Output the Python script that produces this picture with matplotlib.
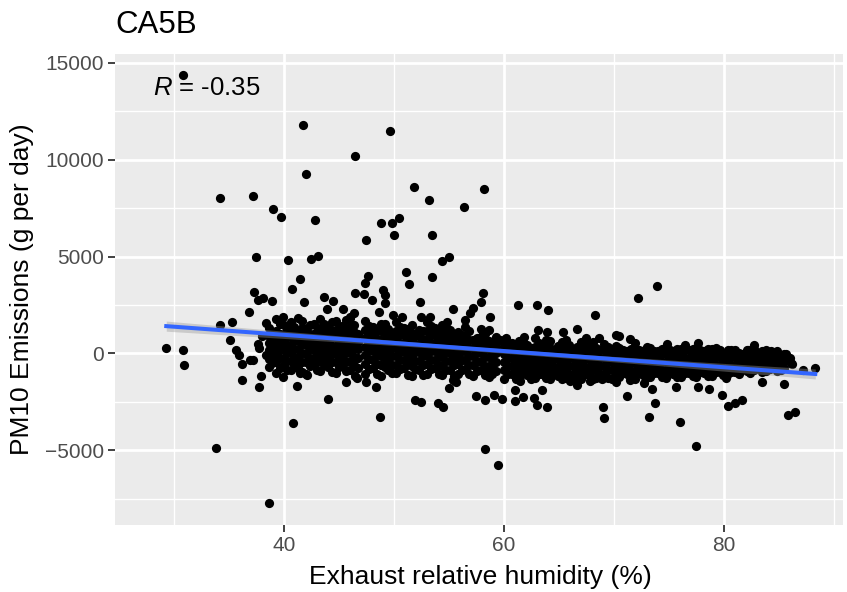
import numpy as np
import matplotlib.pyplot as plt

plt.rcParams['font.family'] = ['Liberation Sans', 'DejaVu Sans']
plt.rcParams['mathtext.fontset'] = 'custom'
plt.rcParams['mathtext.it'] = 'Liberation Sans:italic'
plt.rcParams['mathtext.rm'] = 'Liberation Sans'

title = "CA5B"
x_label = "Exhaust relative humidity (%)"
y_label = "PM10 Emissions (g per day)"
r_text = "-0.35"

x_ticks = [40, 60, 80]
y_ticks = [-5000, 0, 5000, 10000, 15000]

# isolated points (humidity %, PM10 g/day)
upper_pts = [
    (30.8, 14400), (41.7, 11780), (46.5, 10180), (49.6, 11480), (42.0, 9280),
    (34.2, 8010), (37.2, 8130), (39.0, 7440), (39.7, 7060), (42.8, 6870),
    (51.8, 8570), (58.2, 8490), (53.2, 7920), (56.4, 7570), (50.5, 6990),
    (49.8, 6750), (48.8, 6730), (50.0, 6110), (53.5, 6110), (47.5, 5840),
    (37.5, 4990), (40.4, 4820), (42.5, 4890), (43.1, 5040), (55.0, 4970),
    (54.4, 4750), (41.5, 3850), (40.7, 3330), (37.3, 3150), (47.6, 4010),
    (47.4, 3630), (51.1, 4220), (51.4, 3580), (53.5, 3960), (46.5, 3100),
    (49.0, 3270), (49.2, 3010), (47.3, 3050), (48.0, 2750), (49.2, 2580),
    (52.4, 2630), (58.1, 3100), (57.9, 2630), (61.3, 2500), (63.0, 2500),
    (64.0, 2240), (55.4, 2270), (58.7, 1880), (45.4, 2270), (48.6, 2150),
    (72.2, 2840), (73.9, 3490), (68.3, 1980),
]

left_pts = [
    (29.3, 290), (30.8, 170), (30.9, -600), (33.8, -4900), (34.2, 1460),
    (35.3, 1630), (35.1, 700), (35.6, 150), (35.9, -100), (36.2, -570),
    (36.2, -1400), (36.8, 2120), (37.6, 2750), (38.1, 2840), (38.9, 2700),
    (36.9, -350), (37.7, -1720), (37.9, -1170), (38.6, -7750), (40.8, -3580),
    (41.8, 2630), (43.6, 2920), (44.5, 2700), (46.4, 2070), (43.9, 2270),
    (44.0, -2380), (41.2, -1690), (39.9, -1210), (41.5, -1030), (42.1, -1120),
    (45.6, -1470), (46.5, -1170), (37.7, 260), (38.4, -90), (38.4, 1550),
    (39.9, 1890), (37.2, -350), (37.6, 500), (38.0, 900),
]

mid_pts = [
    (57.2, 2320), (56.9, 2070), (56.5, 1720), (49.9, 1980), (50.7, 1890),
    (52.5, 1890), (53.3, 1890), (54.8, 1630), (58.6, 1200), (46.0, 1890),
    (60.2, 770), (61.8, 860), (63.1, 1200), (63.9, 1120), (65.4, 1120),
    (66.6, 1240), (67.5, 770), (68.6, 770), (70.2, 950), (59.6, 690),
    (58.1, 1120), (70.5, 910), (71.5, 720), (71.9, 550), (74.8, 460),
    (76.5, 430), (77.6, 550), (73.0, 340), (79.3, 260), (80.4, 170),
]

lower_pts = [
    (47.5, -1470), (48.4, -1720), (46.6, -1290), (51.9, -2410), (52.5, -2530),
    (54.0, -2580), (54.5, -2790), (55.0, -1810), (55.4, -1380), (57.5, -2200),
    (58.3, -2410), (48.7, -3270), (58.3, -4940), (59.5, -5770), (59.1, -2150),
    (59.8, -2360), (61.0, -2450), (61.7, -2240), (62.7, -2320), (63.0, -2670),
    (63.9, -2790), (63.5, -1900), (61.0, -1900), (55.6, -1470), (66.6, -1640),
    (69.0, -2760), (69.1, -3360), (66.0, -1450), (67.8, -1450), (68.9, -1350),
    (61.5, -1450), (58.3, -860), (58.9, -950),
]

right_pts = [
    (70.2, -1470), (71.5, -1380), (72.7, -1550), (73.5, -1860), (75.6, -1720),
    (77.6, -1720), (78.6, -1860), (79.8, -2150), (80.2, -1290), (71.2, -2200),
    (73.7, -2550), (73.2, -3270), (76.0, -3560), (77.5, -4800), (80.4, -2720),
    (81.0, -2580), (81.6, -2410), (85.5, -1590), (85.8, -3190), (86.5, -3050),
    (83.5, -1470), (85.6, -50), (86.1, -520), (87.2, -860), (88.3, -740),
    (84.3, 130), (82.7, 430), (82.2, 170), (86.0, -260), (86.2, -550),
]

# dense band: humidity columns and the PM10 values stacked in each
band1_hum = [38.6, 39.3, 40.0, 40.6, 41.3, 42.0, 42.7, 43.3, 44.0, 44.7, 45.3, 46.0, 46.7]
band1_pm = [
    [-700, -300, 150, 520, 900, 1300],
    [-1000, -450, -50, 380, 760, 1150, 1750],
    [-600, -250, 200, 620, 1000, 1450],
    [-850, -400, 50, 450, 850, 1250, 1600],
    [-750, -200, 250, 700, 1100, 1850],
    [-1050, -450, -20, 420, 820, 1250],
    [-600, -250, 180, 600, 1000, 1500],
    [-900, -400, 30, 480, 900, 1300, 1750],
    [-700, -280, 150, 560, 950, 1300],
    [-1000, -450, 0, 400, 820, 1200, 1650],
    [-600, -200, 250, 650, 1050, 1400],
    [-850, -380, 60, 500, 900, 1350, 1800],
    [-750, -250, 200, 600, 1000],
]
band1b_hum = [38.95, 39.65, 40.3, 40.95, 41.65, 42.35, 43.0, 43.65, 44.35, 45.0, 45.65, 46.35]
band1b_pm = [
    [-500, -80, 350, 720, 1050],
    [-750, -250, 180, 600, 1000, 1500],
    [-850, -420, 0, 420, 820, 1250],
    [-550, -180, 250, 650, 1050, 1350],
    [-950, -450, 0, 480, 900, 1300, 1650],
    [-650, -220, 200, 620, 1000, 1450],
    [-850, -450, 0, 400, 800, 1150],
    [-600, -150, 250, 700, 1100, 1500],
    [-950, -450, -30, 380, 780, 1150, 1600],
    [-700, -300, 150, 550, 950, 1300],
    [-900, -450, 0, 420, 850, 1250, 1700],
    [-600, -200, 250, 700, 1100, 1450],
]

band2_hum = [47.4, 48.1, 48.8, 49.5, 50.2, 50.9, 51.6, 52.3, 53.0, 53.7, 54.4, 55.1,
             55.8, 56.5, 57.2, 57.9, 58.6, 59.3]
band2_pm = [
    [-1050, -550, -100, 350, 780, 1200, 1650],
    [-750, -350, 100, 550, 950, 1350],
    [-1150, -600, -150, 300, 700, 1150, 1500],
    [-850, -400, 50, 500, 900, 1250],
    [-1000, -600, -150, 280, 720, 1150, 1600],
    [-750, -350, 120, 550, 950, 1300],
    [-1150, -650, -200, 250, 650, 1050, 1450],
    [-850, -400, 50, 480, 880, 1200],
    [-1050, -550, -100, 330, 750, 1150, 1600],
    [-750, -350, 100, 520, 950, 1300],
    [-1100, -650, -200, 250, 650, 1050, 1450],
    [-850, -400, 30, 450, 850, 1200],
    [-1050, -550, -100, 350, 750, 1100],
    [-800, -350, 100, 500, 900, 1350],
    [-1150, -600, -150, 280, 680],
    [-850, -400, 50, 450, 850, 1250],
    [-1200, -650, -200, 250, 650],
    [-900, -450, 0, 400, 850],
]
band2b_hum = [47.75, 48.45, 49.15, 49.85, 50.55, 51.25, 51.95, 52.65, 53.35, 54.05,
              54.75, 55.45, 56.15, 56.85, 57.55, 58.25, 58.95]
band2b_pm = [
    [-800, -300, 150, 580, 1000, 1400],
    [-1050, -550, -100, 330, 750, 1150],
    [-700, -250, 200, 620, 1050, 1500],
    [-1000, -600, -150, 300, 700, 1050],
    [-800, -350, 80, 500, 950, 1350],
    [-1100, -550, -100, 350, 780, 1250],
    [-800, -400, 50, 450, 880],
    [-1100, -600, -150, 280, 700, 1150],
    [-800, -330, 130, 550, 950, 1400],
    [-1050, -600, -150, 300, 720, 1100],
    [-850, -380, 60, 480, 880, 1300],
    [-1150, -600, -180, 250, 650, 950],
    [-850, -350, 120, 520, 950],
    [-1050, -600, -150, 280, 700, 1150],
    [-900, -450, 0, 420, 800],
    [-1100, -650, -200, 220, 600, 1000],
    [-1050, -650, -250, 200, 600],
]

band3_hum = [60.0, 60.7, 61.4, 62.1, 62.8, 63.5, 64.2, 64.9, 65.6, 66.3, 67.0, 67.7,
             68.4, 69.1, 69.8]
band3_pm = [
    [-1300, -850, -450, -50, 350, 700],
    [-1050, -650, -250, 150, 550],
    [-1350, -900, -500, -100, 300, 650],
    [-1100, -700, -300, 100, 450],
    [-1250, -850, -450, -50, 350, 800],
    [-1050, -650, -250, 150],
    [-1350, -900, -500, -100, 300, 650],
    [-1150, -700, -300, 100, 400],
    [-1250, -850, -450, -50, 350, 700],
    [-1050, -650, -250, 150],
    [-1350, -900, -500, -100, 300, 600],
    [-1100, -700, -300, 100, 450],
    [-1250, -850, -450, -50, 300],
    [-1050, -650, -250, 150, 500],
    [-1300, -850, -450, -50, 250],
]
band3b_hum = [60.35, 61.05, 61.75, 62.45, 63.15, 63.85, 64.55, 65.25, 65.95, 66.65,
              67.35, 68.05, 68.75, 69.45, 70.15]
band3b_pm = [
    [-1050, -650, -250, 150, 500],
    [-1300, -850, -450, -50, 350],
    [-1000, -600, -200, 200, 600],
    [-1350, -900, -500, -100, 300],
    [-1050, -650, -250, 150, 550],
    [-1250, -850, -450, -50, 350, 700],
    [-1050, -700, -300, 100],
    [-1300, -900, -500, -100, 300, 600],
    [-1100, -650, -250, 150, 450],
    [-1250, -850, -450, -50, 350],
    [-1050, -700, -300, 100, 500],
    [-1300, -850, -450, -50, 300, 600],
    [-1050, -650, -250, 150],
    [-1250, -850, -450, -50, 350],
    [-1100, -700, -300, 100, 400],
]

band4_hum = [70.5, 71.2, 71.9, 72.6, 73.3, 74.0, 74.7, 75.4, 76.1, 76.8, 77.5, 78.2,
             78.9, 79.6, 80.3, 81.0, 81.7, 82.4, 83.1, 83.8, 84.5, 85.2]
band4_pm = [
    [-1200, -850, -450, -50, 300],
    [-1050, -700, -300, 100],
    [-1300, -900, -500, -100, 250],
    [-1100, -700, -300, 100],
    [-1200, -850, -450, -50, 300],
    [-1000, -650, -250, 100],
    [-1250, -850, -450, -50, 250],
    [-1050, -700, -300, 100],
    [-1200, -850, -450, -100, 250],
    [-1000, -650, -250, 150],
    [-1200, -800, -400, -50, 300],
    [-1000, -650, -250, 100],
    [-1150, -800, -400, -50, 200],
    [-950, -600, -200, 150],
    [-1100, -750, -350, 0],
    [-950, -600, -200, 150],
    [-800, -450, -50],
    [-1000, -650, -250, 100],
    [-750, -400, 0],
    [-900, -550, -150, 150],
    [-700, -350, 0],
    [-850, -500, -100],
]
band4b_hum = [70.85, 71.55, 72.25, 72.95, 73.65, 74.35, 75.05, 75.75, 76.45, 77.15,
              77.85, 78.55, 79.25, 79.95, 80.65, 81.35, 82.05, 82.75, 83.45, 84.15,
              84.85, 85.5]
band4b_pm = [
    [-1000, -650, -250, 150],
    [-1250, -900, -500, -100, 250],
    [-1000, -650, -250, 150],
    [-1250, -900, -500, -100, 230],
    [-1000, -650, -250, 130],
    [-1200, -850, -450, -50, 250],
    [-1000, -650, -250, 150],
    [-1200, -850, -450, -50, 230],
    [-1000, -650, -250, 150],
    [-1150, -850, -450, -50, 250],
    [-950, -600, -200, 150],
    [-1150, -800, -400, -20, 230],
    [-950, -600, -200, 130],
    [-1100, -750, -350, 20],
    [-950, -600, -200, 150],
    [-1050, -750, -350, 20],
    [-900, -550, -150, 150],
    [-850, -500, -100, 200],
    [-950, -600, -200, 100],
    [-800, -450, -50],
    [-900, -550, -150, 100],
    [-750, -400, -50],
]

# collect everything
hum, pm = [], []
for pts in (upper_pts, left_pts, mid_pts, lower_pts, right_pts):
    for h, p in pts:
        hum.append(h)
        pm.append(p)
for cols, vals in ((band1_hum, band1_pm), (band1b_hum, band1b_pm),
                   (band2_hum, band2_pm), (band2b_hum, band2b_pm),
                   (band3_hum, band3_pm), (band3b_hum, band3b_pm),
                   (band4_hum, band4_pm), (band4b_hum, band4b_pm)):
    for h, ys in zip(cols, vals):
        for p in ys:
            hum.append(h)
            pm.append(p)
hum = np.array(hum, dtype=float)
pm = np.array(pm, dtype=float)

fig = plt.figure(figsize=(8.47, 5.92), dpi=100)
ax = fig.add_axes([115 / 847, 1 - 525 / 592, (843 - 115) / 847, (525 - 54) / 592])
ax.set_facecolor('#EBEBEB')
for s in ax.spines.values():
    s.set_visible(False)

ax.set_xlim(24.64, 90.82)
ax.set_ylim(-8865, 15460)
ax.set_xticks(x_ticks)
ax.set_yticks(y_ticks)
ax.set_xticks([30, 50, 70, 90], minor=True)
ax.set_yticks([-7500, -2500, 2500, 7500, 12500], minor=True)
ax.grid(which='major', color='white', linewidth=2.0)
ax.grid(which='minor', color='white', linewidth=1.0)
ax.set_axisbelow(True)
ax.tick_params(which='minor', length=0)
ax.tick_params(which='major', length=5, width=1.3, color='#333333',
               labelsize=15, labelcolor='#4D4D4D', pad=3)

ax.scatter(hum, pm, s=44, color='black', linewidths=0, zorder=3)

# linear fit with 95% band
coef = np.polyfit(hum, pm, 1)
xs = np.linspace(hum.min(), hum.max(), 100)
fit = np.polyval(coef, xs)
resid = pm - np.polyval(coef, hum)
n = len(hum)
mse = np.sum(resid ** 2) / (n - 2)
sxx = np.sum((hum - hum.mean()) ** 2)
se = np.sqrt(mse * (1 / n + (xs - hum.mean()) ** 2 / sxx))
ax.fill_between(xs, fit - 1.96 * se, fit + 1.96 * se, color='#999999', alpha=0.4,
                linewidth=0, zorder=4)
ax.plot(xs, fit, color='#3366FF', linewidth=2.9, zorder=5)

ax.text(28.06, 13690, r'$R$ = ' + r_text, fontsize=18.5, ha='left', va='center', zorder=2)

fig.text(115 / 847, 1 - 25 / 592, title, fontsize=22.5, ha='left', va='center')
fig.text(480 / 847, 1 - 577 / 592, x_label, fontsize=19, ha='center', va='center')
fig.text(22 / 847, 1 - 289 / 592, y_label, fontsize=19, ha='center', va='center',
         rotation=90)

fig.savefig('out.png', dpi=100)
